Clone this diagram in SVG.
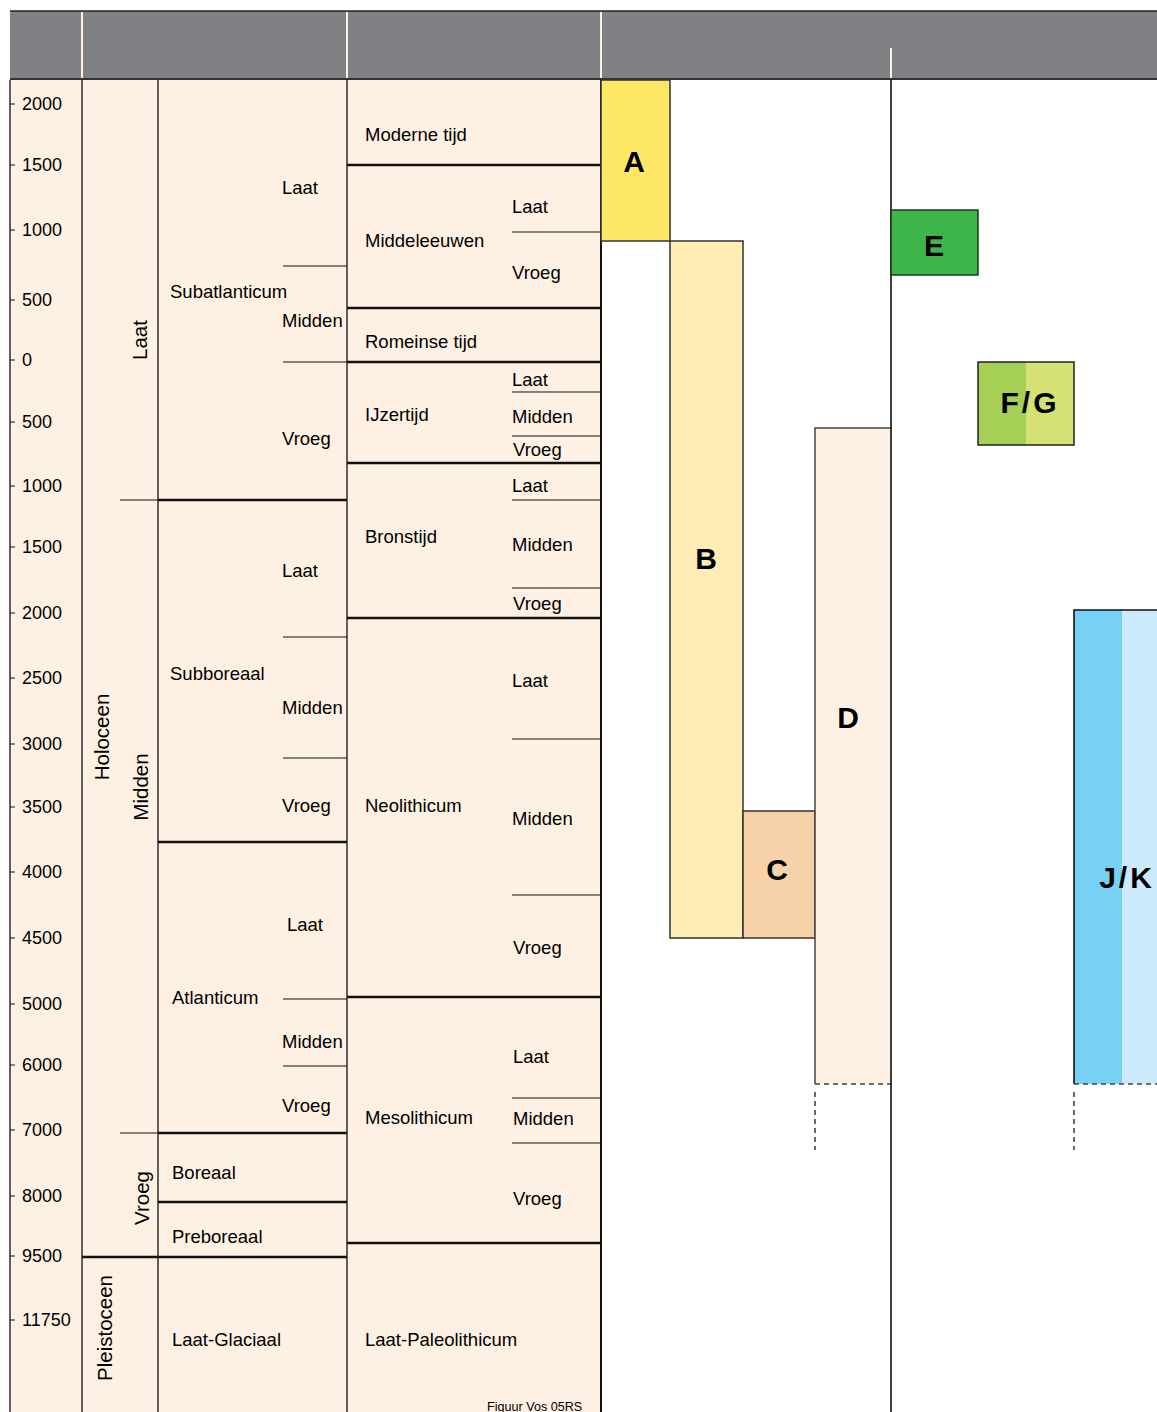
<svg xmlns="http://www.w3.org/2000/svg" width="1157" height="1412" viewBox="0 0 1157 1412">
<style>
text{font-family:"Liberation Sans",Arial,sans-serif;fill:#000}
.t{font-size:18.5px}
.n{font-size:18px}
.r{font-size:20.5px}
.big{font-size:30px;font-weight:bold;text-anchor:middle}
.thin{stroke:#111;stroke-width:1.2;fill:none}
.thick{stroke:#111;stroke-width:2.5;fill:none}
.vl{stroke:#3a3a3a;stroke-width:1.6;fill:none}
.sep{stroke:#fef1e3;stroke-width:2;fill:none}
.box{stroke:#333;stroke-width:1.5}
.dash{stroke:#444;stroke-width:1.6;stroke-dasharray:5,4;fill:none}
</style>
<rect width="1157" height="1412" fill="#fff"/>
<g id="header">
<rect x="10" y="11" width="1147" height="68" fill="#808184"/>
<line x1="10" y1="11" x2="1157" y2="11" stroke="#222" stroke-width="1.5"/>
<line x1="10" y1="79" x2="1157" y2="79" stroke="#333" stroke-width="1.8"/>
<line class="sep" x1="82" y1="12" x2="82" y2="78"/>
<line class="sep" x1="347" y1="12" x2="347" y2="78"/>
<line class="sep" x1="601" y1="12" x2="601" y2="78"/>
<line class="sep" x1="891" y1="48" x2="891" y2="78"/>
</g>
<g id="body">
<rect x="10" y="80" width="591" height="1332" fill="#fef1e3"/>
<line class="vl" x1="10" y1="80" x2="10" y2="1412"/>
<line class="vl" x1="82" y1="80" x2="82" y2="1412"/>
<line class="vl" x1="158" y1="80" x2="158" y2="1412"/>
<line class="vl" x1="347" y1="80" x2="347" y2="1412"/>
<line stroke="#111" stroke-width="2" x1="601" y1="80" x2="601" y2="1412"/>
</g>
<g id="axis">
<path class="thin" d="M10 104h5M10 165h5M10 230h5M10 300h5M10 360h5M10 422h5M10 486h5M10 547h5M10 613h5M10 678h5M10 744h5M10 807h5M10 872h5M10 938h5M10 1004h5M10 1065h5M10 1130h5M10 1196h5M10 1256h5M10 1320h5"/>
<text class="n" x="22" y="110">2000</text>
<text class="n" x="22" y="171">1500</text>
<text class="n" x="22" y="236">1000</text>
<text class="n" x="22" y="306">500</text>
<text class="n" x="22" y="366">0</text>
<text class="n" x="22" y="428">500</text>
<text class="n" x="22" y="492">1000</text>
<text class="n" x="22" y="553">1500</text>
<text class="n" x="22" y="619">2000</text>
<text class="n" x="22" y="684">2500</text>
<text class="n" x="22" y="750">3000</text>
<text class="n" x="22" y="813">3500</text>
<text class="n" x="22" y="878">4000</text>
<text class="n" x="22" y="944">4500</text>
<text class="n" x="22" y="1010">5000</text>
<text class="n" x="22" y="1071">6000</text>
<text class="n" x="22" y="1136">7000</text>
<text class="n" x="22" y="1202">8000</text>
<text class="n" x="22" y="1262">9500</text>
<text class="n" x="22" y="1326">11750</text>
</g>
<g id="epochs">
<text class="r" transform="translate(109,737) rotate(-90)" text-anchor="middle">Holoceen</text>
<text class="r" transform="translate(112,1328) rotate(-90)" text-anchor="middle">Pleistoceen</text>
<text class="r" transform="translate(147,340) rotate(-90)" text-anchor="middle">Laat</text>
<text class="r" transform="translate(148,787) rotate(-90)" text-anchor="middle">Midden</text>
<text class="r" transform="translate(149,1198) rotate(-90)" text-anchor="middle">Vroeg</text>
<line class="thin" x1="120" y1="500" x2="158" y2="500"/>
<line class="thin" x1="120" y1="1133" x2="158" y2="1133"/>
<line class="thick" x1="82" y1="1257" x2="347" y2="1257"/>
</g>
<g id="climate">
<text class="t" x="170" y="298">Subatlanticum</text>
<text class="t" x="170" y="680">Subboreaal</text>
<text class="t" x="172" y="1004">Atlanticum</text>
<text class="t" x="172" y="1179">Boreaal</text>
<text class="t" x="172" y="1243">Preboreaal</text>
<text class="t" x="172" y="1346">Laat-Glaciaal</text>
<path class="thick" d="M158 500H347M158 842H347M158 1133H347M158 1202H347"/>
<text class="t" x="282" y="194">Laat</text>
<text class="t" x="282" y="327">Midden</text>
<text class="t" x="282" y="445">Vroeg</text>
<text class="t" x="282" y="577">Laat</text>
<text class="t" x="282" y="714">Midden</text>
<text class="t" x="282" y="812">Vroeg</text>
<text class="t" x="287" y="931">Laat</text>
<text class="t" x="282" y="1048">Midden</text>
<text class="t" x="282" y="1112">Vroeg</text>
<path class="thin" d="M283 266H347M283 362H347M283 637H347M283 758H347M283 999H347M283 1066H347"/>
</g>
<g id="periods">
<text class="t" x="365" y="141">Moderne tijd</text>
<text class="t" x="365" y="247">Middeleeuwen</text>
<text class="t" x="365" y="348">Romeinse tijd</text>
<text class="t" x="365" y="421">IJzertijd</text>
<text class="t" x="365" y="543">Bronstijd</text>
<text class="t" x="365" y="812">Neolithicum</text>
<text class="t" x="365" y="1124">Mesolithicum</text>
<text class="t" x="365" y="1346">Laat-Paleolithicum</text>
<path class="thick" d="M347 165H601M347 308H601M347 362H601M347 463H601M347 618H601M347 997H601M347 1243H601"/>
<text class="t" x="512" y="213">Laat</text>
<text class="t" x="512" y="279">Vroeg</text>
<text class="t" x="512" y="386">Laat</text>
<text class="t" x="512" y="423">Midden</text>
<text class="t" x="513" y="456">Vroeg</text>
<text class="t" x="512" y="492">Laat</text>
<text class="t" x="512" y="551">Midden</text>
<text class="t" x="513" y="610">Vroeg</text>
<text class="t" x="512" y="687">Laat</text>
<text class="t" x="512" y="825">Midden</text>
<text class="t" x="513" y="954">Vroeg</text>
<text class="t" x="513" y="1063">Laat</text>
<text class="t" x="513" y="1125">Midden</text>
<text class="t" x="513" y="1205">Vroeg</text>
<path class="thin" d="M512 232H601M512 392H601M512 436H601M512 500H601M512 588H601M512 739H601M512 895H601M512 1098H601M512 1143H601"/>
<text x="487" y="1411" style="font-size:12.6px">Figuur Vos 05RS</text>
</g>
<g id="A">
<rect class="box" x="601" y="80" width="69" height="161" fill="#ffe766"/>
<text class="big" x="634" y="172">A</text>
</g>
<g id="B">
<rect class="box" x="670" y="241" width="73" height="697" fill="#ffedb5"/>
<text class="big" x="706" y="569">B</text>
</g>
<g id="C">
<rect class="box" x="743" y="811" width="72" height="127" fill="#f7d1a8"/>
<text class="big" x="777" y="880">C</text>
</g>
<g id="D">
<rect x="815" y="428" width="76" height="656" fill="#fef1e3"/>
<path d="M815 1084V428H891" stroke="#444" stroke-width="1.5" fill="none"/>
<line class="dash" x1="815" y1="1084" x2="891" y2="1084"/>
<line class="dash" x1="815" y1="1092" x2="815" y2="1150"/>
<text class="big" x="848" y="728">D</text>
</g>
<g id="divider">
<line stroke="#111" stroke-width="1.6" x1="891" y1="80" x2="891" y2="1412"/>
</g>
<g id="E">
<rect x="891" y="210" width="87" height="65" fill="#3db54a" stroke="#1a3a1a" stroke-width="1.5"/>
<text class="big" x="934" y="256">E</text>
</g>
<g id="FG">
<rect x="978" y="362" width="48" height="83" fill="#a5cf55"/>
<rect x="1026" y="362" width="48" height="83" fill="#d5e173"/>
<rect x="978" y="362" width="96" height="83" fill="none" stroke="#222" stroke-width="1.5"/>
<text class="big" x="1030" y="413" style="letter-spacing:3px">F/G</text>
</g>
<g id="JK">
<rect x="1074" y="610" width="48" height="474" fill="#76d1f5"/>
<rect x="1122" y="610" width="40" height="474" fill="#cbeafb"/>
<path d="M1074 1084V610H1160" stroke="#111" stroke-width="1.6" fill="none"/>
<line class="dash" x1="1074" y1="1084" x2="1160" y2="1084"/>
<line class="dash" x1="1074" y1="1092" x2="1074" y2="1150"/>
<text class="big" x="1127" y="888" style="letter-spacing:3px">J/K</text>
</g>
</svg>
